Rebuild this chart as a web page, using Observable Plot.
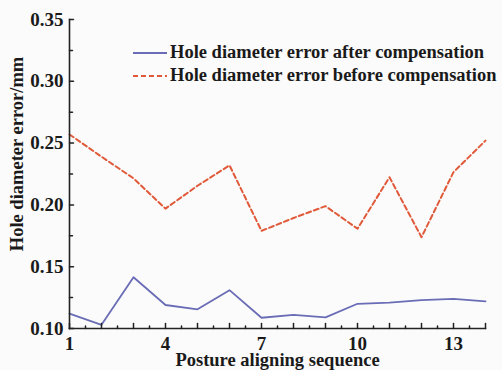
<!DOCTYPE html>
<html><head><meta charset="utf-8">
<script src="https://cdn.jsdelivr.net/npm/d3@7"></script>
<script src="https://cdn.jsdelivr.net/npm/@observablehq/plot@0.6"></script>
<style>
html,body{margin:0;padding:0;background:#fbfbfb;overflow:hidden;}
#chart{position:relative;width:502px;height:370px;overflow:hidden;}
.legend{position:absolute;left:133px;top:41px;font-family:"Liberation Serif",serif;font-size:18.5px;font-weight:bold;color:#1a1a1a;white-space:nowrap;}
.legend .row{display:flex;align-items:center;height:23px;}
.legend svg{margin-right:3px;}
</style></head><body><div id="chart"></div>
<script>
const sequence = [1,2,3,4,5,6,7,8,9,10,11,12,13,14];
const afterComp = [0.112,0.103,0.1415,0.119,0.1155,0.131,0.1087,0.111,0.109,0.120,0.121,0.123,0.124,0.122];
const beforeComp = [0.257,0.239,0.2215,0.197,0.2155,0.232,0.179,0.1894,0.199,0.1807,0.2224,0.1739,0.2265,0.252];
const seriesNames = ["Hole diameter error after compensation","Hole diameter error before compensation"];
const seriesColors = ["#6a6db6","#e05a3a"];
const seriesDash = [null,"5,3"];
const xTickLabels = [1,4,7,10,13];
const yTickLabels = [0.10,0.15,0.20,0.25,0.30,0.35];
const xTitle = "Posture aligning sequence";
const yTitle = "Hole diameter error/mm";

const seriesValues = [afterComp, beforeComp];
const rows = seriesValues.flatMap((vals, s) => vals.map((v, i) => ({x: sequence[i], y: v, s})));

const xIntTicks = d3.range(1, 14.001, 1);
const xHalfTicks = d3.range(1.5, 14, 1);
const yMinorTicks = d3.range(0.125, 0.35, 0.05);
const tickShape = {draw(ctx, l) { ctx.moveTo(0, 0); ctx.lineTo(0, -l); }};
const axisColor = "#222";
const textColor = "#1a1a1a";

const plot = Plot.plot({
  width: 502, height: 370,
  marginLeft: 69, marginRight: 17, marginTop: 19, marginBottom: 42,
  style: {background: "transparent", fontFamily: "'Liberation Serif', serif", fontSize: "19px", fontWeight: "bold", color: textColor},
  x: {domain: [1, 14]},
  y: {domain: [0.10, 0.35]},
  marks: [
    ...seriesValues.map((_, s) => Plot.line(rows.filter(d => d.s === s), {
      x: "x", y: "y", stroke: seriesColors[s], strokeWidth: s ? 2 : 1.8,
      strokeDasharray: seriesDash[s]
    })),
    Plot.axisX({ticks: xTickLabels, tickSize: 0, tickPadding: 8, tickFormat: d => String(d), label: null, fontSize: 19, fontWeight: "bold"}),
    Plot.axisY({ticks: yTickLabels, tickSize: 0, tickPadding: 6, tickFormat: d3.format(".2f"), label: null, fontSize: 19, fontWeight: "bold"}),
    Plot.vector(xIntTicks, {x: d => d, frameAnchor: "bottom", length: 5, anchor: "start", rotate: 0, shape: tickShape, stroke: axisColor, strokeWidth: 1.5}),
    Plot.vector(xHalfTicks, {x: d => d, frameAnchor: "bottom", length: 2.5, anchor: "start", rotate: 0, shape: tickShape, stroke: axisColor, strokeWidth: 1.5}),
    Plot.vector(yTickLabels, {y: d => d, frameAnchor: "left", length: 4, anchor: "start", rotate: 90, shape: tickShape, stroke: axisColor, strokeWidth: 1.5}),
    Plot.vector(yMinorTicks, {y: d => d, frameAnchor: "left", length: 3, anchor: "start", rotate: 90, shape: tickShape, stroke: axisColor, strokeWidth: 1.5}),
    Plot.frame({anchor: "bottom", stroke: axisColor, strokeWidth: 1.6}),
    Plot.frame({anchor: "left", stroke: axisColor, strokeWidth: 1.6}),
    Plot.text([xTitle], {frameAnchor: "bottom", textAnchor: "middle", dy: 32, lineAnchor: "middle", fontSize: 18.5, fontWeight: "bold", fill: textColor}),
    Plot.text([yTitle], {frameAnchor: "left", textAnchor: "middle", dx: -52, dy: -20, rotate: -90, lineAnchor: "middle", fontSize: 18.5, fontWeight: "bold", fill: textColor})
  ]
});
const chart = document.getElementById("chart");
chart.appendChild(plot);

const legend = document.createElement("div");
legend.className = "legend";
seriesNames.forEach((name, s) => {
  const row = document.createElement("div");
  row.className = "row";
  row.innerHTML = `<svg width="34" height="6"><line x1="0" x2="34" y1="3" y2="3" stroke="${seriesColors[s]}" stroke-width="${s ? 2 : 1.8}" ${seriesDash[s] ? `stroke-dasharray="${seriesDash[s]}"` : ""}/></svg><span>${name}</span>`;
  legend.appendChild(row);
});
chart.appendChild(legend);
</script>
</body></html>
